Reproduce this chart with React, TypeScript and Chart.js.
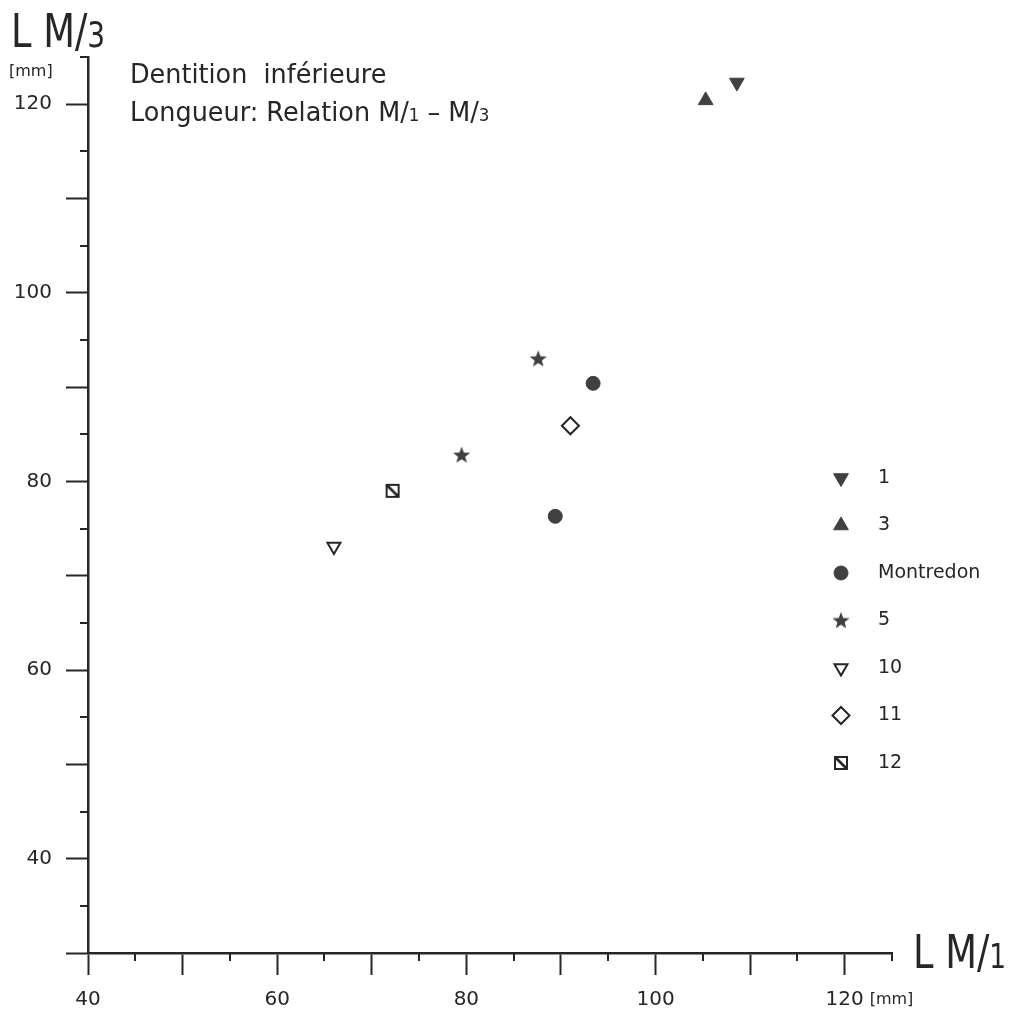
import React, { useEffect, useRef } from 'react';
import { Chart, registerables } from 'chart.js';
import { drawPoint } from 'chart.js/helpers';

Chart.register(...registerables);

// ---- data ----
const seriesNames = ['1', '3', 'Montredon', '5', '10', '11', '12'];
const s1X = [108.6];
const s1Y = [122.3];
const s3X = [105.3];
const s3Y = [120.4];
const montX = [93.4, 89.4];
const montY = [90.4, 76.3];
const s5X = [87.6, 79.5];
const s5Y = [93.0, 82.8];
const s10X = [66.0];
const s10Y = [73.1];
const s11X = [91.0];
const s11Y = [85.9];
const s12X = [72.2];
const s12Y = [79.0];

const xMin = 40;
const xMax = 125;
const yMin = 30;
const yMax = 125;
const xLabelTicks = [40, 60, 80, 100, 120];
const yLabelTicks = [40, 60, 80, 100, 120];
const xMinorTicks = [45, 55, 65, 75, 85, 95, 105, 115, 125];
const yMinorTicks = [35, 45, 55, 65, 75, 85, 95, 105, 115, 125];

const DARK = '#262626';
const FILL = '#404040';
const FONT = "'DejaVu Sans', sans-serif";

function makeStar(color: string) {
  const c = document.createElement('canvas');
  c.width = 20;
  c.height = 20;
  const ctx = c.getContext('2d')!;
  ctx.fillStyle = color;
  ctx.beginPath();
  const R = 9, r = 3.8, cx = 10, cy = 10.5;
  for (let i = 0; i < 10; i++) {
    const a = -Math.PI / 2 + (i * Math.PI) / 5;
    const rr = i % 2 ? r : R;
    const x = cx + rr * Math.cos(a);
    const y = cy + rr * Math.sin(a);
    if (i === 0) ctx.moveTo(x, y);
    else ctx.lineTo(x, y);
  }
  ctx.closePath();
  ctx.fill();
  return c;
}

function makeBoxDiag(color: string) {
  const c = document.createElement('canvas');
  c.width = 16;
  c.height = 16;
  const ctx = c.getContext('2d')!;
  ctx.strokeStyle = color;
  ctx.lineWidth = 2;
  ctx.strokeRect(2, 2, 12, 12);
  ctx.lineWidth = 2.6;
  ctx.beginPath();
  ctx.moveTo(3, 3);
  ctx.lineTo(13, 13);
  ctx.stroke();
  return c;
}

function pts(xs: number[], ys: number[]) {
  return xs.map((x, i) => ({ x, y: ys[i] }));
}

function drawMixed(ctx: CanvasRenderingContext2D, x: number, y: number, parts: [string, number][], k = 1) {
  ctx.save();
  ctx.translate(x, y);
  ctx.scale(k, 1);
  let cx = 0;
  for (const [t, s] of parts) {
    ctx.font = `${s}px ${FONT}`;
    ctx.fillText(t, cx, 0);
    cx += ctx.measureText(t).width;
  }
  ctx.restore();
}

export default function App() {
  const ref = useRef<HTMLCanvasElement>(null);

  useEffect(() => {
    if (!ref.current) return;
    const star = makeStar(FILL);
    const box = makeBoxDiag(DARK);

    const styles: any[] = [
      { pointStyle: 'triangle', pointRotation: 180, pointRadius: 8.5, pointBackgroundColor: FILL, pointBorderColor: FILL, pointBorderWidth: 1 },
      { pointStyle: 'triangle', pointRotation: 0, pointRadius: 8.5, pointBackgroundColor: FILL, pointBorderColor: FILL, pointBorderWidth: 1 },
      { pointStyle: 'circle', pointRotation: 0, pointRadius: 7, pointBackgroundColor: FILL, pointBorderColor: FILL, pointBorderWidth: 1 },
      { pointStyle: star, pointRotation: 0, pointRadius: 8, pointBackgroundColor: FILL, pointBorderColor: FILL, pointBorderWidth: 0 },
      { pointStyle: 'triangle', pointRotation: 180, pointRadius: 7.5, pointBackgroundColor: '#ffffff', pointBorderColor: DARK, pointBorderWidth: 2 },
      { pointStyle: 'rectRot', pointRotation: 0, pointRadius: 8.5, pointBackgroundColor: '#ffffff', pointBorderColor: DARK, pointBorderWidth: 2 },
      { pointStyle: box, pointRotation: 0, pointRadius: 7, pointBackgroundColor: '#ffffff', pointBorderColor: DARK, pointBorderWidth: 0 },
    ];
    const seriesData = [
      pts(s1X, s1Y),
      pts(s3X, s3Y),
      pts(montX, montY),
      pts(s5X, s5Y),
      pts(s10X, s10Y),
      pts(s11X, s11Y),
      pts(s12X, s12Y),
    ];

    const decor = {
      id: 'decor',
      afterDraw(chart: any) {
        const ctx: CanvasRenderingContext2D = chart.ctx;
        const xs = chart.scales.x;
        const ys = chart.scales.y;
        const { left, bottom } = chart.chartArea;
        ctx.save();
        ctx.strokeStyle = DARK;
        ctx.lineWidth = 2;
        ctx.beginPath();
        xMinorTicks.forEach((v) => {
          const px = Math.round(xs.getPixelForValue(v));
          ctx.moveTo(px, bottom);
          ctx.lineTo(px, bottom + 8);
        });
        yMinorTicks.forEach((v) => {
          const py = Math.round(ys.getPixelForValue(v));
          ctx.moveTo(left - 8, py);
          ctx.lineTo(left, py);
        });
        ctx.stroke();

        ctx.fillStyle = DARK;
        ctx.textAlign = 'left';
        ctx.textBaseline = 'alphabetic';
        // y axis title
        drawMixed(ctx, 11, 47, [['L M/', 46], ['3', 35]], 0.8);
        // x axis title
        drawMixed(ctx, 913, 968, [['L M/', 46], ['1', 33]], 0.8);
        // chart titles
        drawMixed(ctx, 130, 83, [['Dentition  inférieure', 26]], 0.98);
        drawMixed(ctx, 130, 121, [['Longueur: Relation M/', 26], ['1', 17], [' – M/', 26], ['3', 17]], 0.98);
        // units
        ctx.textBaseline = 'middle';
        ctx.font = `16px ${FONT}`;
        ctx.fillText('[mm]', 9, 72);
        ctx.fillText('[mm]', xs.getPixelForValue(120) + 25, 1000);

        // legend
        const lx = 841;
        const ly0 = 478;
        const step = 47.5;
        seriesNames.forEach((name, i) => {
          const st = styles[i];
          const y = ly0 + i * step;
          ctx.fillStyle = st.pointBackgroundColor;
          ctx.strokeStyle = st.pointBorderColor;
          ctx.lineWidth = st.pointBorderWidth;
          drawPoint(ctx, {
            pointStyle: st.pointStyle,
            rotation: st.pointRotation,
            radius: st.pointRadius,
            borderWidth: st.pointBorderWidth,
          } as any, lx, y);
          ctx.fillStyle = DARK;
          ctx.font = `19px ${FONT}`;
          ctx.textBaseline = 'middle';
          ctx.fillText(name, 878, y);
        });
        ctx.restore();
      },
    };

    const chart = new Chart(ref.current, {
      type: 'scatter',
      data: {
        datasets: seriesNames.map((name, i) => ({
          label: name,
          data: seriesData[i],
          ...styles[i],
          showLine: false,
        })),
      },
      options: {
        animation: false,
        responsive: false,
        devicePixelRatio: 1,
        layout: { padding: { left: 0, right: 117, top: 57, bottom: 0 } },
        plugins: {
          legend: { display: false },
          tooltip: { enabled: false },
          title: { display: false },
        },
        scales: {
          x: {
            type: 'linear',
            min: xMin,
            max: xMax,
            afterBuildTicks: (s: any) => {
              s.ticks = s.ticks.filter((t: any) => t.value % 10 === 0);
            },
            afterFit: (s: any) => {
              s.height = 56;
            },
            ticks: {
              stepSize: 10,
              includeBounds: false,
              autoSkip: false,
              maxRotation: 0,
              padding: 13,
              color: DARK,
              font: { family: FONT, size: 20 },
              callback: (v: any) => (xLabelTicks.includes(Number(v)) ? String(v) : ''),
            },
            grid: { drawOnChartArea: false, drawTicks: true, tickLength: 22, tickColor: DARK, tickWidth: 2 },
            border: { display: true, color: DARK, width: 2.5 },
          },
          y: {
            type: 'linear',
            min: yMin,
            max: yMax,
            afterBuildTicks: (s: any) => {
              s.ticks = s.ticks.filter((t: any) => t.value % 10 === 0);
            },
            afterFit: (s: any) => {
              s.width = 88;
            },
            ticks: {
              stepSize: 10,
              includeBounds: false,
              autoSkip: false,
              padding: 14,
              color: DARK,
              font: { family: FONT, size: 20 },
              callback: (v: any) => (yLabelTicks.includes(Number(v)) ? String(v) : ''),
            },
            grid: { drawOnChartArea: false, drawTicks: true, tickLength: 22, tickColor: DARK, tickWidth: 2 },
            border: { display: true, color: DARK, width: 2.5 },
          },
        },
      },
      plugins: [decor],
    } as any);

    return () => chart.destroy();
  }, []);

  return (
    <div style={{ position: 'absolute', left: 0, top: 0, width: 1009, height: 1009, background: '#ffffff' }}>
      <canvas ref={ref} width={1009} height={1009} />
    </div>
  );
}
